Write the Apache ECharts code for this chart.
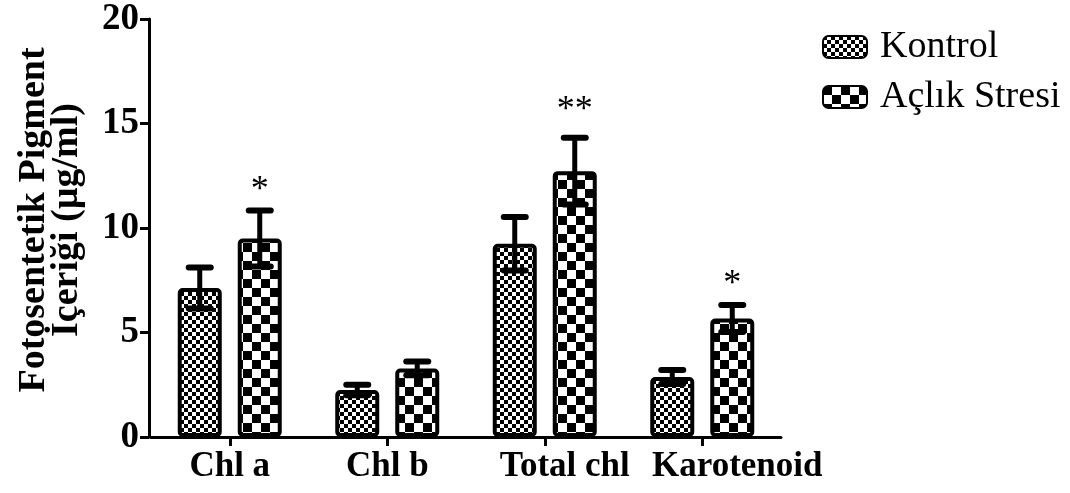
<!DOCTYPE html>
<html>
<head>
<meta charset="utf-8">
<script src="https://cdn.jsdelivr.net/npm/echarts@6/dist/echarts.min.js"></script>
<style>
  html, body { margin: 0; padding: 0; background: #fff; }
  #chart { width: 1070px; height: 493px; }
</style>
</head>
<body>
<div id="chart"></div>
<script>
// Pigment content per group (mean ± error) and significance marks
const categories = ['Chl a', 'Chl b', 'Total chl', 'Karotenoid'];
const kontrolMean = [7.13, 2.25, 9.25, 2.87];
const kontrolErr  = [0.98, 0.25, 1.28, 0.33];
const aclikMean   = [9.5, 3.28, 12.72, 5.67];
const aclikErr    = [1.34, 0.33, 1.6, 0.65];
const aclikSig    = ['*', '', '**', '*'];
const yTicks      = [0, 5, 10, 15, 20];

const FONT = '"Liberation Serif", "Times New Roman", serif';

// Checkerboard fill patterns
function checker(cell) {
  const c = document.createElement('canvas');
  c.width = cell * 2; c.height = cell * 2;
  const g = c.getContext('2d');
  g.fillStyle = '#fff'; g.fillRect(0, 0, c.width, c.height);
  g.fillStyle = '#000';
  g.fillRect(0, 0, cell, cell);
  g.fillRect(cell, cell, cell, cell);
  return { image: c, repeat: 'repeat' };
}
const fineFill = checker(4);
const coarseFill = checker(9);

const BAR_W = 44;
const GAP = 16;
const OFFSET = (BAR_W + GAP) / 2;

// Category labels sit slightly right of their ticks for the longer names
const labelShift = [0, 0, 40, 70];

function errorSeries(name, means, errs, sig, shift) {
  return {
    type: 'custom',
    name: name + ' err',
    z: 5,
    silent: true,
    data: means.map((m, i) => [i, m, errs[i]]),
    renderItem: function (params, api) {
      const i = api.value(0), m = api.value(1), e = api.value(2);
      const s = sig[i] || '';
      const top = api.coord([i, m + e]);
      const bot = api.coord([i, m - e]);
      const x = top[0] + shift;
      const capHalf = 11;
      const capStyle = { stroke: '#000', lineWidth: 6, lineCap: 'round' };
      const children = [
        { type: 'line', shape: { x1: x, y1: top[1], x2: x, y2: bot[1] }, style: { stroke: '#000', lineWidth: 5 } },
        { type: 'line', shape: { x1: x - capHalf, y1: top[1], x2: x + capHalf, y2: top[1] }, style: capStyle },
        { type: 'line', shape: { x1: x - capHalf, y1: bot[1], x2: x + capHalf, y2: bot[1] }, style: capStyle }
      ];
      if (s) {
        children.push({
          type: 'text',
          style: {
            x: x, y: top[1] - (s.length > 1 ? 27 : 20), text: s,
            font: '36px ' + FONT, fill: '#000',
            align: 'center', verticalAlign: 'middle'
          }
        });
      }
      return { type: 'group', children: children };
    }
  };
}

const rich = {};
labelShift.forEach((p, i) => {
  rich['c' + i] = { fontFamily: FONT, fontWeight: 'bold', fontSize: 35, color: '#000', padding: [0, 0, 0, p] };
});

const chart = echarts.init(document.getElementById('chart'), null, { renderer: 'canvas' });
chart.setOption({
  animation: false,
  backgroundColor: '#fff',
  grid: { left: 151, right: 289, top: 19, bottom: 56, containLabel: false },
  legend: {
    data: ['Kontrol', 'Açlık Stresi'],
    orient: 'vertical',
    left: 822,
    top: 28,
    padding: 0,
    itemWidth: 44,
    itemHeight: 22,
    itemGap: 12,
    textStyle: { fontFamily: FONT, fontSize: 38, color: '#000', padding: [0, 0, 0, 8] }
  },
  xAxis: {
    type: 'category',
    data: categories,
    axisLine: { lineStyle: { color: '#000', width: 3 } },
    axisTick: { show: true, alignWithLabel: true, length: 9, lineStyle: { color: '#000', width: 3 } },
    axisLabel: {
      margin: 12,
      interval: 0,
      formatter: function (v, i) { return '{c' + i + '|' + v + '}'; },
      rich: rich
    }
  },
  yAxis: {
    type: 'value',
    offset: 2,
    min: yTicks[0],
    max: yTicks[yTicks.length - 1],
    interval: 5,
    splitLine: { show: false },
    axisLine: { show: true, lineStyle: { color: '#000', width: 3 } },
    axisTick: { show: true, length: 9, lineStyle: { color: '#000', width: 3 } },
    axisLabel: { fontFamily: FONT, fontWeight: 'bold', fontSize: 37, color: '#000', margin: 10 },
    name: 'Fotosentetik Pigment\nİçeriği (µg/ml)',
    nameLocation: 'middle',
    nameGap: 65,
    nameTextStyle: { fontFamily: FONT, fontWeight: 'bold', fontSize: 38, color: '#000', lineHeight: 33, align: 'center', padding: [0, 0, 0, 16] }
  },
  series: [
    {
      name: 'Kontrol',
      type: 'bar',
      data: kontrolMean,
      barWidth: BAR_W,
      barGap: (GAP / BAR_W * 100) + '%',
      itemStyle: { color: fineFill, borderColor: '#000', borderWidth: 4, borderRadius: 3 }
    },
    {
      name: 'Açlık Stresi',
      type: 'bar',
      data: aclikMean,
      barWidth: BAR_W,
      itemStyle: { color: coarseFill, borderColor: '#000', borderWidth: 4, borderRadius: 3 }
    },
    errorSeries('Kontrol', kontrolMean, kontrolErr, [], -OFFSET),
    errorSeries('Açlık Stresi', aclikMean, aclikErr, aclikSig, OFFSET)
  ]
});
</script>
</body>
</html>
